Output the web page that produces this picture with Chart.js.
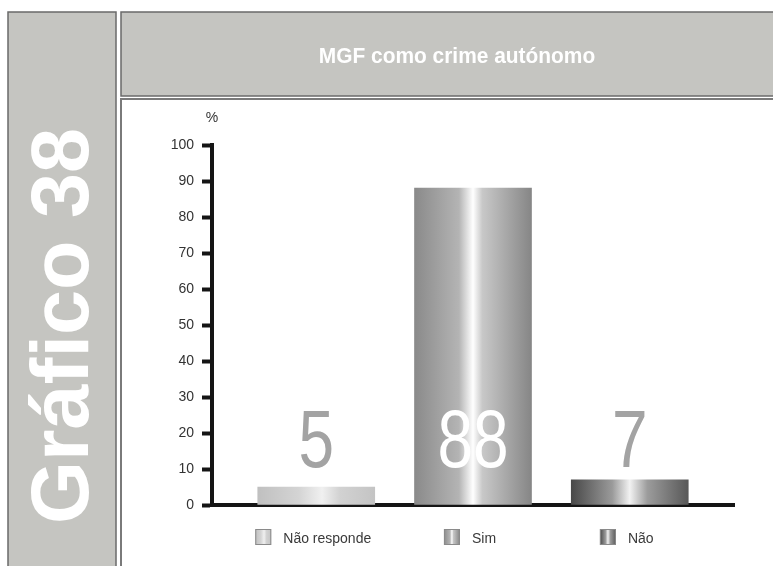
<!DOCTYPE html>
<html>
<head>
<meta charset="utf-8">
<script src="https://cdn.jsdelivr.net/npm/chart.js@4/dist/chart.umd.min.js"></script>
<style>
  html, body { margin: 0; padding: 0; background: #ffffff; }
  #wrap { width: 773px; height: 566px; position: relative; }
</style>
</head>
<body>
<div id="wrap"><canvas id="c" width="773" height="566"></canvas></div>
<script>
// ---- data ----
const categories = ['Não responde', 'Sim', 'Não'];
const values = [5, 88, 7];
const yTicks = [0, 10, 20, 30, 40, 50, 60, 70, 80, 90, 100];
const chartTitle = 'MGF como crime autónomo';
const sideTitle = 'Gráfico 38';
const unitLabel = '%';

// ---- styles ----
const gradientStops = [
  [[0, '#c0c0c0'], [0.35, '#d4d4d4'], [0.55, '#f0f0f0'], [0.7, '#d2d2d2'], [1, '#c4c4c4']],
  [[0, '#8a8a8a'], [0.38, '#b4b4b4'], [0.5, '#ffffff'], [0.58, '#c8c8c8'], [1, '#868686']],
  [[0, '#484848'], [0.35, '#9a9a9a'], [0.5, '#f2f2f2'], [0.65, '#9c9c9c'], [1, '#585858']]
];
const labelColors = ['#a3a3a3', '#ffffff', '#a3a3a3'];
const BAR_W = 117;

function makeGrad(ctx, x0, x1, stops) {
  const g = ctx.createLinearGradient(x0, 0, x1, 0);
  stops.forEach(s => g.addColorStop(s[0], s[1]));
  return g;
}

const panelsPlugin = {
  id: 'panels',
  beforeDraw(chart) {
    const ctx = chart.ctx;
    ctx.save();
    ctx.fillStyle = '#ffffff';
    ctx.fillRect(0, 0, chart.width, chart.height);
    ctx.fillStyle = '#c5c5c1';
    ctx.fillRect(8, 12, 108, 560);
    ctx.strokeStyle = '#6a6a6a';
    ctx.lineWidth = 1.5;
    ctx.strokeRect(8, 12, 108, 560);
    ctx.fillRect(121, 12, 660, 84);
    ctx.strokeRect(121, 12, 660, 84);
    ctx.strokeStyle = '#7a7a7a';
    ctx.lineWidth = 2;
    ctx.beginPath();
    ctx.moveTo(121, 580); ctx.lineTo(121, 99); ctx.lineTo(780, 99);
    ctx.stroke();
    ctx.fillStyle = '#ffffff';
    ctx.font = 'bold 22px "Liberation Sans", Arial, sans-serif';
    ctx.textAlign = 'center';
    ctx.textBaseline = 'middle';
    ctx.save();
    ctx.translate(457, 57);
    ctx.scale(0.95, 1);
    ctx.fillText(chartTitle, 0, 0);
    ctx.restore();
    ctx.save();
    ctx.translate(64, 326);
    ctx.rotate(-Math.PI / 2);
    ctx.font = 'bold 81px "Liberation Sans", Arial, sans-serif';
    ctx.fillText(sideTitle, 0, 2);
    ctx.restore();
    ctx.fillStyle = '#333';
    ctx.font = '14px "Liberation Sans", Arial, sans-serif';
    ctx.fillText(unitLabel, 212, 118);
    ctx.restore();
  }
};

const labelsPlugin = {
  id: 'valueLabels',
  afterDatasetsDraw(chart) {
    const ctx = chart.ctx;
    const xs = chart.scales.x, ys = chart.scales.y;
    ctx.save();
    ctx.textAlign = 'center';
    ctx.textBaseline = 'alphabetic';
    ctx.font = '82px "Liberation Sans", Arial, sans-serif';
    values.forEach((v, i) => {
      ctx.fillStyle = labelColors[i];
      ctx.save();
      ctx.translate(xs.getPixelForValue(i), ys.getPixelForValue(10) - 2);
      ctx.scale(0.78, 1);
      ctx.fillText(String(v), 0, 0);
      ctx.restore();
    });
    ctx.font = '14px "Liberation Sans", Arial, sans-serif';
    ctx.textBaseline = 'middle';
    ctx.textAlign = 'left';
    categories.forEach((c, i) => {
      const tw = ctx.measureText(c).width;
      const total = 16 + 12 + tw;
      const cx = xs.getPixelForValue(i) - 3;
      const x0 = cx - total / 2;
      const y0 = 529;
      ctx.fillStyle = makeGrad(ctx, x0, x0 + 16, gradientStops[i]);
      ctx.fillRect(x0, y0, 16, 16);
      ctx.strokeStyle = '#8a8a8a';
      ctx.lineWidth = 1;
      ctx.strokeRect(x0 + 0.5, y0 + 0.5, 15, 15);
      ctx.fillStyle = '#3a3a3a';
      ctx.fillText(c, x0 + 28, y0 + 10);
    });
    ctx.restore();
  }
};

const ctx = document.getElementById('c').getContext('2d');
new Chart(ctx, {
  type: 'bar',
  data: {
    datasets: [{
      data: values.map((v, i) => ({ x: i, y: v })),
      barThickness: BAR_W,
      borderWidth: 0,
      backgroundColor(context) {
        const chart = context.chart;
        const xs = chart.scales.x;
        if (!xs || context.dataIndex === undefined || !chart.chartArea) return '#aaaaaa';
        const cx = xs.getPixelForValue(context.dataIndex);
        if (!isFinite(cx)) return '#aaaaaa';
        return makeGrad(chart.ctx, cx - BAR_W / 2, cx + BAR_W / 2, gradientStops[context.dataIndex]);
      }
    }]
  },
  options: {
    responsive: false,
    animation: false,
    layout: { padding: { left: 130, right: 39, top: 145, bottom: 0 } },
    plugins: { legend: { display: false }, tooltip: { enabled: false }, title: { display: false } },
    scales: {
      x: {
        type: 'linear',
        offset: false,
        min: -0.665,
        max: 2.665,
        ticks: { display: false },
        grid: { display: false, offset: false },
        border: { display: true, width: 4, color: '#151515' },
        afterFit(s) { s.height = 566 - 505; }
      },
      y: {
        min: 0,
        max: 100,
        afterBuildTicks(s) { s.ticks = yTicks.map(v => ({ value: v })); },
        ticks: {
          color: '#333333',
          padding: 8,
          font: { family: '"Liberation Sans", Arial, sans-serif', size: 14 }
        },
        grid: { display: true, drawOnChartArea: false, drawTicks: true, tickLength: 10, tickWidth: 4, tickColor: '#151515' },
        border: { display: true, width: 4, color: '#151515' },
        afterFit(s) { s.width = 212 - 130; }
      }
    }
  },
  plugins: [panelsPlugin, labelsPlugin]
});
</script>
</body>
</html>
